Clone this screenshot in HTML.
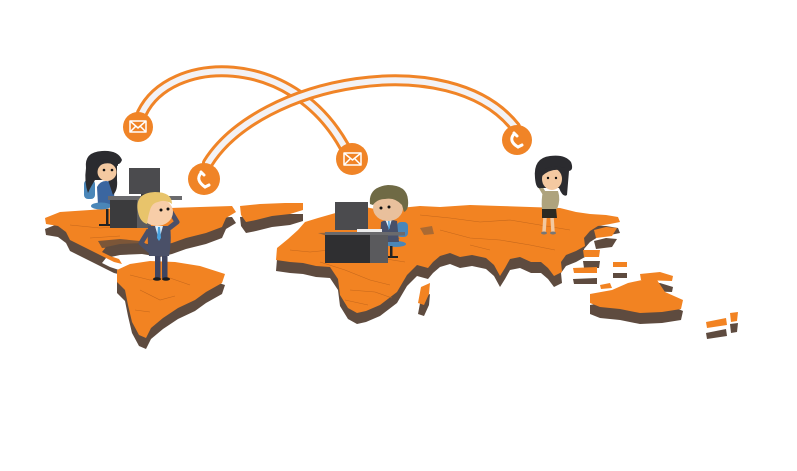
<!DOCTYPE html>
<html><head><meta charset="utf-8"><style>
html,body{margin:0;padding:0;background:#fff;}
svg{display:block;}
</style></head><body>
<svg width="797" height="471" viewBox="0 0 797 471" xmlns="http://www.w3.org/2000/svg">
<rect width="797" height="471" fill="#fff"/>
<defs>
<g id="na"><path d="M45,218 L60,212 L90,210 L130,207 L170,208 L200,207 L232,206 L236,212 L226,218 L222,227 L206,233 L186,238 L172,243 L160,246 L142,243 L120,244 L106,247 L102,252 L110,256 L119,259 L122,264 L114,262 L96,253 L82,246 L70,240 L66,232 L58,226 L46,224 Z"/></g>
<g id="gl"><path d="M240,206 L260,204 L285,203 L303,203 L303,210 L290,214 L272,216 L256,220 L246,222 L241,215 Z"/></g>
<g id="sa"><path d="M117,270 L130,264 L150,261 L175,262 L200,266 L225,274 L222,283 L206,292 L195,300 L178,308 L163,318 L151,328 L146,338 L139,335 L132,322 L128,305 L125,290 L117,282 Z"/></g>
<g id="eu"><path d="M298,230 L305,222 L318,218 L332,214 L346,210 L365,207 L380,210 L400,208 L420,206 L440,207 L470,205 L500,206 L530,207 L560,208 L576,212 L590,214 L606,215 L618,217 L620,222 L610,224 L598,226 L590,231 L584,238 L585,246 L576,251 L566,255 L561,262 L562,272 L554,276 L548,268 L541,262 L531,262 L520,257 L510,259 L505,268 L500,276 L494,265 L486,258 L472,255 L460,257 L450,253 L440,256 L433,262 L428,268 L417,265 L407,275 L397,292 L380,305 L366,311 L357,313 L348,308 L340,295 L338,279 L330,267 L316,266 L303,263 L290,262 L276,260 L277,248 L288,239 Z"/></g>
<g id="mad"><path d="M421,287 L430,283 L429,294 L424,305 L418,303 Z"/></g>
<g id="au"><path d="M590,294 L612,290 L628,283 L642,280 L657,280 L665,292 L683,300 L681,309 L662,312 L640,313 L620,309 L600,307 L590,303 Z"/></g>
<g id="isl">
<path d="M573,268 L597,267 L597,273 L574,273 Z"/>
<path d="M613,262 L627,262 L627,267 L613,267 Z"/>
<path d="M640,274 L660,272 L673,276 L672,281 L641,280 Z"/>
<path d="M583,250 L600,250 L599,257 L584,257 Z"/>
<path d="M594,230 L606,227 L617,228 L612,236 L596,238 Z"/>
<path d="M706,322 L726,318 L727,325 L707,328 Z"/>
<path d="M730,313 L738,312 L737,321 L731,322 Z"/>
<path d="M600,285 L610,283 L612,288 L601,289 Z"/>
</g>
</defs>

<!-- shadows -->
<g fill="#5e4b3f" transform="translate(0,11)">
<use href="#na"/><use href="#gl"/><use href="#sa"/><use href="#eu"/><use href="#mad"/><use href="#au"/><use href="#isl"/>
</g>
<!-- land -->
<g fill="#f28322">
<use href="#na"/><use href="#gl"/><use href="#sa"/><use href="#eu"/><use href="#mad"/><use href="#au"/><use href="#isl"/>
</g>
<!-- seas -->
<path d="M318,233 L345,232 L372,236 L400,238 L395,241 L360,240 L330,237 Z" fill="#7a5a40" opacity="0.7"/>
<path d="M420,228 L432,226 L434,234 L424,235 Z" fill="#7a5a40" opacity="0.6"/>
<path d="M98,241 L120,239 L140,241 L138,246 L118,247 L102,248 Z" fill="#5e4b3f" opacity="0.8"/>
<!-- borders -->
<g fill="none" stroke="#b9601a" stroke-width="0.6" opacity="0.8">
<path d="M130,275 L150,280 L170,278 L190,285 M140,290 L160,300 L175,296 M135,310 L150,312"/>
<path d="M290,250 L310,252 L330,250 L355,255 L380,258 L405,262 M320,262 L345,270 L370,280 L390,285 M350,290 L375,292 L392,298 M345,300 L368,305"/>
<path d="M420,215 L450,218 L480,222 L510,220 L540,225 L570,230 M440,230 L470,238 L500,240 L530,245 L555,250 M470,245 L490,250"/>
<path d="M70,225 L100,228 L130,226 M90,238 L120,236"/>
</g>

<!-- arcs -->
<g fill="none" stroke-linecap="round">
<path d="M142,113 C170,55 290,50 344,146" stroke="#f08427" stroke-width="12"/>
<path d="M142,113 C170,55 290,50 344,146" stroke="#f3f2f5" stroke-width="6"/>
<path d="M208,163 C260,80 450,45 515,127" stroke="#f08427" stroke-width="12"/>
<path d="M208,163 C260,80 450,45 515,127" stroke="#f3f2f5" stroke-width="6"/>
</g>
<!-- icons -->
<g fill="#f08427">
<circle cx="138" cy="127" r="15"/>
<circle cx="352" cy="159" r="16"/>
<circle cx="204" cy="179" r="16"/>
<circle cx="517" cy="140" r="15"/>
</g>
<g fill="none" stroke="#fff" stroke-width="1.5" stroke-linejoin="round">
<rect x="130" y="121" width="16" height="11"/>
<path d="M130,121 L138,128 L146,121 M130,132 L136,126 M146,132 L140,126"/>
<rect x="344" y="153" width="17" height="12"/>
<path d="M344,153 L352.5,160 L361,153 M344,165 L350,159 M361,165 L355,159"/>
</g>
<g fill="none" stroke="#fff" stroke-linecap="round">
<path d="M201,173 Q195,180 205,187" stroke-width="3"/>
<path d="M201,172 L204,175 M205,187 L209,185" stroke-width="3"/>
<path d="M514,134 Q508,141 518,147" stroke-width="3"/>
<path d="M514,133 L517,136 M518,147 L522,145" stroke-width="3"/>
</g>

<!-- woman at desk -->
<rect x="84" y="180" width="11" height="19" rx="4" fill="#4a86b8"/>
<rect x="106" y="209" width="2.5" height="15" fill="#222"/>
<path d="M99,225 L115,225" stroke="#222" stroke-width="2"/>
<path d="M97,187 Q100,181 106,181 L112,182 Q115,190 114,205 L98,205 Z" fill="#3b66a0"/>
<ellipse cx="101" cy="206" rx="10" ry="3.5" fill="#4a86b8"/>
<path d="M86,168 Q84,152 102,151 Q118,150 122,160 Q120,165 117,164 L117,180 Q118,190 113,195 L108,180 L95,180 Q90,188 88,193 Q84,182 86,168 Z" fill="#2b2b2f"/>
<ellipse cx="107" cy="172" rx="9.5" ry="9" fill="#f4c9a1"/>
<path d="M96,162 Q105,156 118,162 L118,166 Q106,160 97,167 Z" fill="#2b2b2f"/>
<circle cx="104" cy="170" r="1.3" fill="#111"/><circle cx="112" cy="170" r="1.3" fill="#111"/>
<rect x="129" y="168" width="31" height="26" fill="#4b4b4e"/>
<rect x="141" y="194" width="6" height="4" fill="#3a3a3c"/>
<rect x="108" y="196" width="74" height="4" fill="#6a6a6d"/>
<rect x="110" y="200" width="27" height="28" fill="#3b3b3d"/>
<rect x="137" y="200" width="14" height="28" fill="#5c5c5f"/>

<!-- blond man -->
<rect x="155" y="250" width="5.5" height="28" fill="#3f4560"/>
<rect x="162" y="250" width="5.5" height="28" fill="#3f4560"/>
<ellipse cx="157" cy="279" rx="4" ry="1.8" fill="#1c1c1c"/>
<ellipse cx="166" cy="279" rx="4" ry="1.8" fill="#1c1c1c"/>
<path d="M148,226 L170,226 Q172,240 169,256 L149,256 Q147,240 148,226 Z" fill="#4a5068"/>
<path d="M149,230 L141,243 L150,251" fill="none" stroke="#4a5068" stroke-width="5" stroke-linejoin="round"/>
<path d="M168,229 L177,222 L171,212" fill="none" stroke="#4a5068" stroke-width="5" stroke-linejoin="round"/>
<path d="M155,226 L163,226 L159,240 Z" fill="#dfeefa"/>
<path d="M158,227 L160,227 L161,238 L159,241 L157,238 Z" fill="#4aa3e0"/>
<ellipse cx="157" cy="212" rx="16" ry="14" fill="#f7cda8"/>
<path d="M138,212 Q134,193 155,192 Q172,192 172,204 Q165,199 158,202 Q152,203 150,210 Q148,216 147,224 Q140,222 138,212 Z" fill="#e8c46b"/>
<circle cx="161" cy="210" r="1.5" fill="#111"/><circle cx="168" cy="209" r="1.5" fill="#111"/>

<!-- middle man at desk -->
<rect x="397" y="222" width="11" height="15" rx="4" fill="#4a86b8"/>
<ellipse cx="396" cy="244" rx="10" ry="3" fill="#4a86b8"/>
<rect x="390" y="246" width="2.5" height="10" fill="#222"/>
<path d="M385,257 L398,257" stroke="#222" stroke-width="2"/>
<path d="M381,222 Q388,218 397,221 L399,242 L380,242 Z" fill="#48506a"/>
<path d="M385,219 L392,219 L389,229 Z" fill="#dfeefa"/>
<path d="M388,220 L389.5,220 L390,228 L388.5,230 Z" fill="#4aa3e0"/>
<ellipse cx="388" cy="208" rx="15" ry="13" fill="#e9c09c"/>
<path d="M370,204 Q368,187 388,185 Q407,185 408,200 Q409,210 404,212 L402,205 Q395,197 385,199 Q377,199 373,205 Z" fill="#6f6a45"/>
<circle cx="381" cy="208" r="1.5" fill="#111"/><circle cx="389" cy="207" r="1.5" fill="#111"/>
<rect x="335" y="202" width="33" height="28" fill="#4b4b4e"/>
<rect x="357" y="229" width="25" height="3" fill="#eeeeee"/>
<rect x="325" y="232" width="80" height="3.5" fill="#6a6a6d"/>
<rect x="325" y="235" width="45" height="28" fill="#2f2f31"/>
<rect x="370" y="235" width="18" height="28" fill="#5a5a5d"/>

<!-- woman standing right -->
<path d="M545,217 L544,232 M552,217 L553,232" stroke="#f2c8a0" stroke-width="3.5"/>
<ellipse cx="544" cy="233" rx="3" ry="1.5" fill="#777"/><ellipse cx="553" cy="233" rx="3" ry="1.5" fill="#777"/>
<path d="M542,208 L556,208 L557,218 L542,218 Z" fill="#2c2a22"/>
<path d="M543,191 L558,191 Q561,200 557,209 L542,209 Q541,200 543,191 Z" fill="#aea37d"/>
<path d="M544,193 L538,183" stroke="#aea37d" stroke-width="4" stroke-linecap="round"/>
<path d="M535,178 Q533,158 550,156 Q565,154 571,162 Q574,170 569,171 L567,195 Q563,198 559,188 L541,188 Q536,190 535,178 Z" fill="#2b2b2f"/>
<ellipse cx="552" cy="179" rx="10" ry="11" fill="#f4c9a1"/>
<path d="M541,172 Q550,163 565,168 L565,171 Q552,167 542,176 Z" fill="#2b2b2f"/>
<circle cx="548" cy="178" r="1.2" fill="#111"/><circle cx="556" cy="178" r="1.2" fill="#111"/>
</svg>
</body></html>
